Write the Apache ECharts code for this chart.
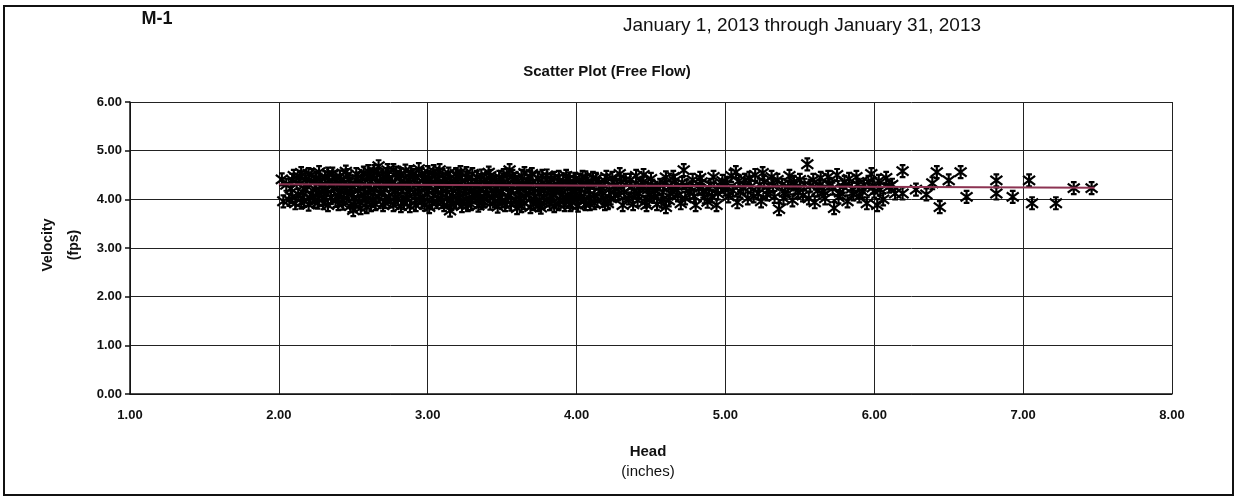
<!DOCTYPE html>
<html>
<head>
<meta charset="utf-8">
<script src="https://cdn.jsdelivr.net/npm/echarts@6/dist/echarts.min.js"></script>
<style>
html,body{margin:0;padding:0;background:#fff;}
#chart{width:1238px;height:502px;}
</style>
</head>
<body>
<div id="chart"></div>
<script>
// ---- Data ----
const titleLeft = 'M-1';
const titleRange = 'January 1, 2013 through January 31, 2013';
const titleMain = 'Scatter Plot (Free Flow)';
const xAxisName = ['Head', '(inches)'];
const yAxisName = ['Velocity', '(fps)'];

// head (inches), velocity (fps)
const denseLeft = [
[2.02,4.41],[2.03,3.96],
[2.08,4.22],[2.09,4.05],[2.10,4.48],[2.11,3.92],[2.12,4.33],
[2.15,4.54],[2.16,4.14],[2.17,3.97],[2.18,4.41],[2.19,4.27],[2.20,3.89],
[2.22,4.50],[2.23,4.06],[2.24,4.36],[2.25,4.19],[2.26,3.93],[2.27,4.56],
[2.29,4.29],[2.30,4.01],[2.31,4.45],[2.32,4.12],[2.33,3.88],[2.34,4.38],
[2.36,4.53],[2.37,4.21],[2.38,3.97],[2.39,4.33],[2.40,4.08],[2.41,4.47],
[2.43,3.91],[2.44,4.25],[2.45,4.57],[2.46,4.15],[2.47,4.40],[2.48,3.86],
[2.50,3.78],[2.50,4.02],[2.51,4.31],[2.52,4.52],[2.53,4.18],[2.54,3.95],
[2.56,4.44],[2.57,4.09],[2.58,4.27],[2.59,3.84],[2.60,4.58]
];
const denseMid = [
[2.62,4.36],[2.63,4.00],[2.64,4.20],[2.65,3.90],[2.66,4.50],[2.67,4.68],
[2.69,4.12],[2.70,4.42],[2.71,3.94],[2.72,4.29],[2.73,4.60],[2.74,4.05],
[2.76,4.35],[2.77,3.88],[2.78,4.18],[2.79,4.55],[2.80,4.00],[2.81,4.45],
[2.83,4.24],[2.84,3.92],[2.85,4.59],[2.86,4.10],[2.87,4.38],[2.88,3.86],
[2.90,4.50],[2.91,4.15],[2.92,3.98],[2.93,4.30],[2.94,4.62],[2.95,4.04],
[2.97,4.42],[2.98,3.89],[2.99,4.22],[3.00,4.56],[3.01,3.84],[3.02,4.34],
[3.04,4.08],[3.05,4.48],[3.06,3.94],[3.07,4.26],[3.08,4.60],[3.09,4.13],
[3.11,3.88],[3.12,4.40],[3.13,4.02],[3.14,4.53],[3.15,3.77],[3.16,4.20]
];
const denseRight = [
[3.18,4.32],[3.19,3.93],[3.20,4.47],[3.21,4.10],[3.22,4.56],[3.23,3.86],
[3.25,4.25],[3.26,4.00],[3.27,4.42],[3.28,4.16],[3.29,3.90],[3.30,4.52],
[3.32,4.06],[3.33,4.36],[3.34,3.87],[3.35,4.20],[3.36,4.49],[3.37,3.97],
[3.39,4.30],[3.40,4.12],[3.41,4.55],[3.42,3.91],[3.43,4.40],[3.44,4.03],
[3.46,4.22],[3.47,3.85],[3.48,4.46],[3.49,4.14],[3.50,3.96],[3.51,4.34],
[3.53,4.51],[3.54,4.07],[3.55,4.60],[3.56,3.89],[3.57,4.26],[3.58,4.42],
[3.60,3.82],[3.61,4.18],[3.62,4.00],[3.63,4.48],[3.64,4.31],[3.65,3.92],
[3.67,4.38],[3.68,4.09],[3.69,3.84],[3.70,4.52],[3.71,4.22],
[3.73,3.95],[3.74,4.44],[3.75,4.14],[3.76,3.83],[3.77,4.33],[3.78,4.03],
[3.80,4.49],[3.81,4.24],[3.82,3.90],[3.83,4.40],[3.84,4.11],[3.85,3.86],
[3.87,4.30],[3.88,4.46],[3.89,3.98],[3.90,4.19],[3.91,4.37],[3.92,3.88],
[3.94,4.07],[3.95,4.43],[3.96,4.25],[3.97,3.94],[3.98,4.34],[3.99,4.15],
[4.01,3.87],[4.02,4.40],[4.03,4.05],[4.04,4.28],[4.05,3.96],[4.06,4.45],
[4.08,4.18],[4.09,3.90],[4.10,4.36],[4.12,4.09],[4.13,4.42],[4.14,3.97],
[4.16,4.26],[4.18,4.02],[4.19,4.38],[4.21,3.92],[4.22,4.20],[4.24,4.44],
[4.26,4.08],[4.27,4.30],[4.29,4.52],[4.31,3.88],[4.32,4.15],[4.33,4.40]
];
const denseFill = [
[2.05,4.30],[2.07,3.99],[2.09,4.40],[2.13,4.10],[2.14,4.46],[2.15,3.93],[2.18,4.20],[2.20,4.52],
[2.21,4.03],[2.24,3.95],[2.25,4.44],[2.27,4.12],[2.28,4.36],[2.30,3.92],[2.31,4.22],[2.33,4.53],
[2.35,4.03],[2.36,4.28],[2.38,4.45],[2.40,3.90],[2.42,4.18],[2.42,4.38],[2.44,4.03],[2.46,4.50],
[2.48,4.28],[2.49,4.12],[2.51,3.88],[2.53,4.42],[2.55,4.22],[2.55,3.82],[2.57,4.55],[2.58,3.98],
[2.60,4.14],[2.61,4.46],[2.62,3.88],[2.64,4.58],[2.65,4.28],[2.67,4.06],[2.68,4.38],[2.70,3.88],
[2.71,4.20],[2.72,4.52],[2.74,4.42],[2.75,3.96],[2.77,4.60],[2.78,4.26],[2.80,4.10],[2.82,4.52],
[2.82,3.86],[2.84,4.34],[2.86,4.00],[2.88,4.20],[2.89,4.56],[2.91,4.40],[2.92,3.88],[2.94,4.16],
[2.96,3.94],[2.96,4.52],[2.98,4.32],[3.00,4.10],[3.01,4.44],[3.03,3.92],[3.04,4.58],[3.05,4.20],
[3.07,4.02],[3.08,4.36],[3.10,4.50],[3.10,3.94],[3.12,4.18],[3.13,4.30],[3.15,4.44],[3.16,3.90],
[3.17,4.06],[3.19,4.52],[3.20,4.22],[3.22,3.96],[3.23,4.38],[3.24,4.12],[3.26,4.54],[3.27,3.88],
[3.29,4.30],[3.30,4.04],[3.31,4.20],[3.33,4.46],[3.34,4.10],[3.36,3.92],[3.38,4.40],[3.38,4.02],
[3.40,4.28],[3.42,4.48],[3.43,4.18],[3.45,3.96],[3.46,4.36],[3.48,4.02],[3.50,4.24],[3.51,4.50],
[3.52,3.88],[3.54,4.30],[3.56,4.16],[3.57,4.48],[3.59,4.00],[3.60,4.36],[3.62,4.22],[3.63,3.86],
[3.65,4.54],[3.66,4.12],[3.68,4.28],[3.69,4.46],[3.71,3.90],[3.72,4.06],[3.74,4.28],[3.75,3.88],
[3.77,4.48],[3.78,4.20],[3.80,3.98],[3.82,4.34],[3.83,4.06],[3.85,4.44],[3.86,4.18],[3.88,3.90],
[3.89,4.26],[3.91,4.04],[3.93,4.48],[3.94,4.32],[3.96,3.88],[3.97,4.14],[3.99,4.42],[4.00,4.02],
[4.02,4.22],[4.04,4.46],[4.06,3.90],[4.07,4.32],[4.09,4.10],[4.11,4.44],[4.12,3.92],[4.15,4.32],
[4.17,4.14],[4.19,3.90],[4.20,4.46],[4.23,4.02],[4.25,4.26],[4.28,4.10],[4.30,4.36]
];
const sparseMid = [
[4.35,4.02],[4.37,4.25],[4.38,3.90],[4.40,4.48],[4.42,4.12],[4.44,4.34],
[4.46,3.95],[4.47,3.88],[4.48,4.20],[4.50,4.42],[4.52,4.05],[4.54,3.90],
[4.56,4.30],[4.58,4.15],[4.60,4.45],[4.60,3.84],[4.62,3.98],[4.64,4.24],
[4.66,4.38],[4.68,4.08],[4.70,3.92],[4.72,4.60],[4.74,4.28],[4.76,4.14],
[4.78,4.40],[4.80,3.88],[4.82,4.22],[4.84,4.35],[4.86,4.04],[4.88,3.95],
[4.90,4.30],[4.92,4.46],[4.94,3.88],[4.95,4.12],[4.98,4.38],[5.00,4.20],
[5.02,4.06],[5.04,4.48],[5.07,4.56],[5.08,3.94],[5.10,4.16],[5.13,4.40],
[5.15,4.02],[5.17,4.26],[5.20,4.50],[5.22,4.12],[5.24,3.96],[5.25,4.54],
[5.26,4.36],[5.29,4.20],[5.31,4.46],[5.33,4.05],[5.36,3.80],[5.38,4.30],
[5.40,4.14],[5.43,4.48],[5.45,3.98],[5.47,4.24],[5.50,4.40],[5.52,4.08],
[5.55,4.72],[5.57,4.28],[5.60,3.94],[5.62,4.18],[5.64,4.44],[5.67,4.02],
[5.70,4.32],[5.73,3.82],[5.75,4.50],[5.77,4.14],[5.80,4.36],[5.82,3.96],
[5.85,4.22],[5.88,4.46],[5.90,4.06],[5.93,4.30],[5.95,3.92],[5.98,4.52],
[6.00,4.16],[6.02,3.88],[6.03,4.38],[6.06,4.00],[6.10,4.26],[6.14,4.12],
[6.19,4.58],[6.19,4.12]
];
const sparseFill = [
[4.36,4.40],[4.39,4.16],[4.41,3.98],[4.43,4.28],[4.45,4.50],[4.49,4.08],[4.51,4.28],[4.53,4.18],
[4.57,3.96],[4.59,4.32],[4.63,4.12],[4.65,4.46],[4.67,4.20],[4.71,4.34],[4.73,4.02],[4.77,4.24],
[4.79,4.06],[4.83,4.44],[4.85,4.16],[4.89,4.22],[4.91,4.06],[4.97,4.26],[5.01,4.34],[5.05,4.18],
[5.09,4.38],[5.12,4.24],[5.16,4.44],[5.19,4.06],[5.23,4.30],[5.28,4.10],[5.32,4.28],[5.35,4.40],
[5.39,4.02],[5.42,4.26],[5.46,4.36],[5.49,4.14],[5.53,4.30],[5.56,4.02],[5.59,4.40],[5.63,4.28],
[5.66,4.16],[5.69,4.46],[5.72,4.22],[5.76,4.04],[5.79,4.26],[5.83,4.42],[5.86,4.10],[5.89,4.30],
[5.92,4.16],[5.96,4.36],[5.99,4.24],[6.04,4.20],[6.08,4.44],[6.12,4.30]
];
const sparseRight = [
[6.28,4.20],[6.35,4.10],[6.39,4.33],[6.42,4.56],[6.44,3.84],[6.50,4.39],
[6.58,4.56],[6.62,4.05],[6.82,4.39],[6.82,4.12],[6.93,4.05],[7.04,4.39],
[7.06,3.92],[7.22,3.92],[7.34,4.23],[7.46,4.23]
];
const trendLine = [[2.00,4.31],[7.48,4.24]];

const xTicks = {min: 1, max: 8, interval: 1};
const yTicks = {min: 0, max: 6, interval: 1};

// ---- Chart ----
const chart = echarts.init(document.getElementById('chart'), null, {renderer: 'canvas'});
const FONT = '"Liberation Sans", Arial, sans-serif';
const starPath = 'path://M3,0 L7,0 M3,10 L7,10 M5,0 L5,10 M0.8,1.2 L9.2,8.8 M0.8,8.8 L9.2,1.2';

const scatterStyle = {
  type: 'scatter',
  symbol: starPath,
  symbolSize: 12,
  itemStyle: {color: 'rgba(0,0,0,0)', borderColor: '#000', borderWidth: 2.2, opacity: 1},
  emphasis: {disabled: true},
  silent: true,
  animation: false,
  large: false,
  z: 2
};
const allPoints = [].concat(denseLeft, denseMid, denseRight, denseFill, sparseMid, sparseFill, sparseRight);

chart.setOption({
  animation: false,
  backgroundColor: '#fff',
  grid: {left: 130, right: 66, top: 102, bottom: 108, containLabel: false},
  xAxis: {
    type: 'value', min: xTicks.min, max: xTicks.max, interval: xTicks.interval,
    axisLine: {show: true, onZero: false, lineStyle: {color: '#111', width: 1.5}},
    axisTick: {show: false},
    splitLine: {show: true, lineStyle: {color: '#222', width: 1}},
    axisLabel: {color: '#111', fontFamily: FONT, fontWeight: 'bold', fontSize: 13, margin: 15,
      formatter: v => v.toFixed(2)}
  },
  yAxis: {
    type: 'value', min: yTicks.min, max: yTicks.max, interval: yTicks.interval,
    axisLine: {show: true, onZero: false, lineStyle: {color: '#111', width: 1.5}},
    axisTick: {show: true, inside: false, length: 5, lineStyle: {color: '#111', width: 1.5}},
    splitLine: {show: true, lineStyle: {color: '#222', width: 1}},
    axisLabel: {color: '#111', fontFamily: FONT, fontWeight: 'bold', fontSize: 13, margin: 8,
      formatter: v => v.toFixed(2)}
  },
  series: [
    Object.assign({name: 'Velocity', data: allPoints}, scatterStyle),
    {
      name: 'Trend', type: 'line', data: trendLine, showSymbol: false, symbol: 'none',
      lineStyle: {color: '#8c3352', width: 2}, silent: true, z: 5, animation: false
    }
  ],
  graphic: [
    {type: 'rect', shape: {x: 4, y: 6, width: 1229, height: 489},
      style: {fill: 'none', stroke: '#111', lineWidth: 2}, silent: true},
    {type: 'text', x: 157, y: 19, style: {text: titleLeft, font: 'bold 18px ' + FONT,
      fill: '#111', textAlign: 'center', textVerticalAlign: 'middle'}},
    {type: 'text', x: 802, y: 26, style: {text: titleRange, font: '19px ' + FONT,
      fill: '#111', textAlign: 'center', textVerticalAlign: 'middle'}},
    {type: 'text', x: 607, y: 72, style: {text: titleMain, font: 'bold 15px ' + FONT,
      fill: '#111', textAlign: 'center', textVerticalAlign: 'middle'}},
    {type: 'text', x: 648, y: 452, style: {text: xAxisName[0], font: 'bold 15px ' + FONT,
      fill: '#111', textAlign: 'center', textVerticalAlign: 'middle'}},
    {type: 'text', x: 648, y: 472, style: {text: xAxisName[1], font: '15px ' + FONT,
      fill: '#111', textAlign: 'center', textVerticalAlign: 'middle'}},
    {type: 'text', x: 48, y: 245, rotation: Math.PI / 2, style: {text: yAxisName[0], font: 'bold 14px ' + FONT,
      fill: '#111', textAlign: 'center', textVerticalAlign: 'middle'}},
    {type: 'text', x: 74, y: 245, rotation: Math.PI / 2, style: {text: yAxisName[1], font: 'bold 14px ' + FONT,
      fill: '#111', textAlign: 'center', textVerticalAlign: 'middle'}}
  ]
});
</script>
</body>
</html>
